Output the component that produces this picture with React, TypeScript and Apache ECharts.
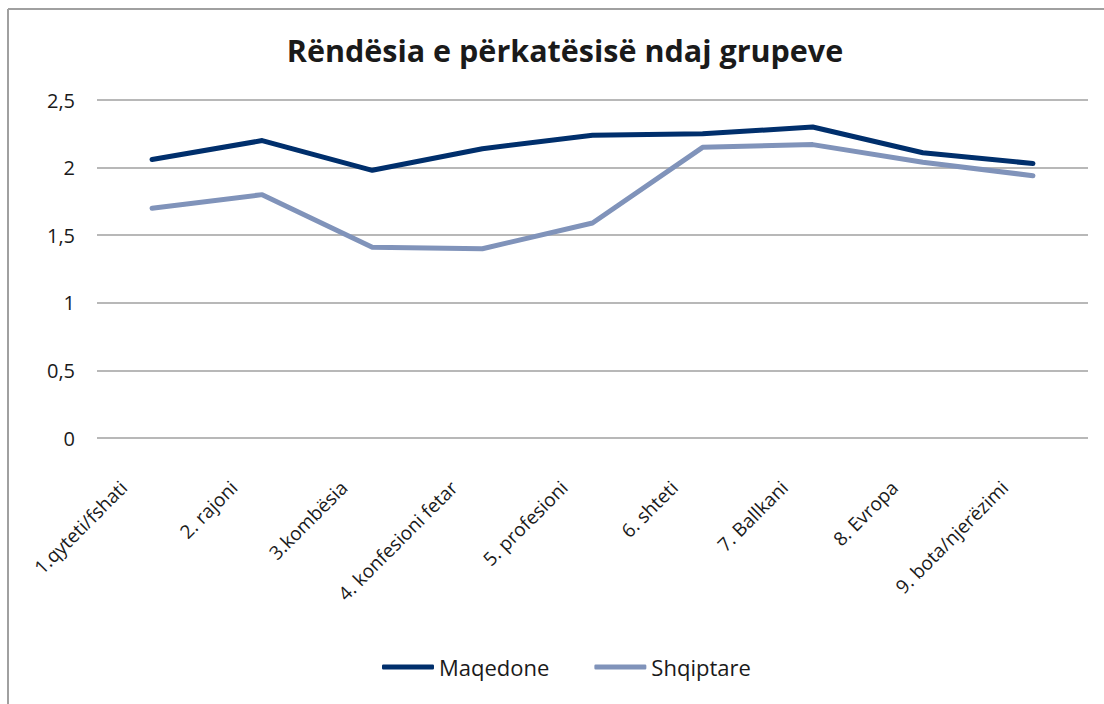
import React, { useEffect, useRef } from "react";
import * as echarts from "echarts";

const categories = [
  "1.qyteti/fshati",
  "2. rajoni",
  "3.kombësia",
  "4. konfesioni fetar",
  "5. profesioni",
  "6. shteti",
  "7. Ballkani",
  "8. Evropa",
  "9. bota/njerëzimi",
];
const maqedone = [2.06, 2.2, 1.98, 2.14, 2.24, 2.25, 2.3, 2.11, 2.03];
const shqiptare = [1.7, 1.8, 1.41, 1.4, 1.59, 2.15, 2.17, 2.04, 1.94];
const seriesNames = ["Maqedone", "Shqiptare"];
const titleText = "Rëndësia e përkatësisë ndaj grupeve";

const FONT = "'Open Sans', 'Noto Sans', sans-serif";

export default function App() {
  const ref = useRef<HTMLDivElement>(null);
  useEffect(() => {
    if (!ref.current) return;
    const chart = echarts.init(ref.current, undefined, { renderer: "svg" });
    chart.setOption({
      animation: false,
      backgroundColor: "#ffffff",
      title: {
        text: titleText,
        left: 560,
        textAlign: "center",
        top: 29,
        textStyle: { fontFamily: FONT, fontSize: 30.5, fontWeight: "bold", color: "#1a1a1a" },
      },
      graphic: [
        { type: "line", shape: { x1: 8, y1: 9, x2: 1200, y2: 9 }, style: { stroke: "#a0a0a0", lineWidth: 2 } },
        { type: "line", shape: { x1: 8, y1: 9, x2: 8, y2: 800 }, style: { stroke: "#a0a0a0", lineWidth: 2 } },
      ],
      legend: {
        bottom: 21,
        left: 377,
        itemGap: 45,
        itemWidth: 52,
        itemHeight: 5,
        icon: "roundRect",
        data: seriesNames,
        textStyle: { fontFamily: FONT, fontSize: 22, color: "#1a1a1a" },
      },
      grid: { left: 97, right: 16, top: 100, bottom: 266, containLabel: false },
      xAxis: {
        type: "category",
        data: categories,
        boundaryGap: true,
        axisLine: { show: false },
        axisTick: { show: false },
        axisLabel: {
          rotate: 45,
          margin: 18,
          padding: [0, 40, 0, 0],
          interval: 0,
          fontFamily: FONT,
          fontSize: 19,
          color: "#1a1a1a",
        },
      },
      yAxis: {
        type: "value",
        min: 0,
        max: 2.5,
        interval: 0.5,
        axisLine: { show: false },
        axisTick: { show: false },
        splitLine: { lineStyle: { color: "#a0a0a0", width: 1.5 } },
        axisLabel: {
          margin: 22,
          fontFamily: FONT,
          fontSize: 20,
          color: "#1a1a1a",
          formatter: (v: number) => String(v).replace(".", ","),
        },
      },
      series: [
        {
          name: seriesNames[0],
          type: "line",
          data: maqedone,
          symbol: "none",
          lineStyle: { color: "#002f6c", width: 5, cap: "round", join: "round" },
          itemStyle: { color: "#002f6c" },
        },
        {
          name: seriesNames[1],
          type: "line",
          data: shqiptare,
          symbol: "none",
          lineStyle: { color: "#8093ba", width: 5, cap: "round", join: "round" },
          itemStyle: { color: "#8093ba" },
        },
      ],
    });
    return () => chart.dispose();
  }, []);
  return (
    <div
      ref={ref}
      style={{ position: "fixed", left: 0, top: 0, width: 1104, height: 704 }}
    />
  );
}
